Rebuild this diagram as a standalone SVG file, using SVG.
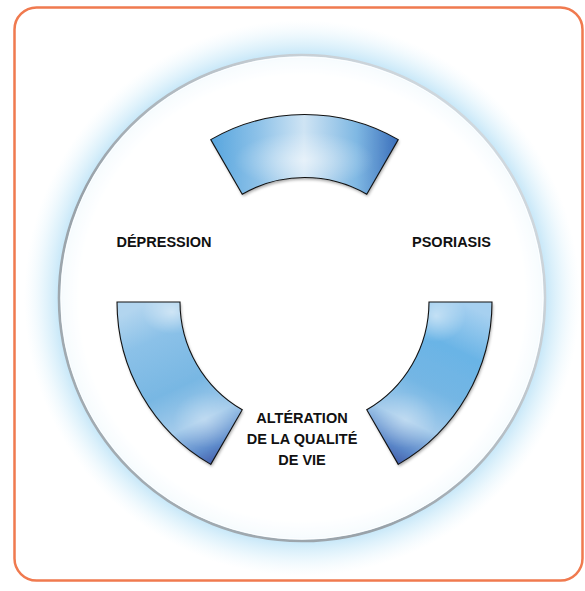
<svg xmlns="http://www.w3.org/2000/svg" width="585" height="591" viewBox="0 0 585 591">
  <defs>
    <style>
      .lbl { font-family: "Liberation Sans", Arial, sans-serif; font-weight: bold; font-size: 14.5px; fill: #111111; text-anchor: middle; }
      .seg { stroke: #111; stroke-width: 1.1; stroke-linejoin: miter; }
    </style>
    <radialGradient id="glow" cx="302" cy="298" r="278" gradientUnits="userSpaceOnUse">
      <stop offset="0" stop-color="#c8e8f8" stop-opacity="0"/>
      <stop offset="0.80" stop-color="#c8e8f8" stop-opacity="0"/>
      <stop offset="0.86" stop-color="#c8e8f8" stop-opacity="0.35"/>
      <stop offset="0.875" stop-color="#c0e4f7" stop-opacity="0.9"/>
      <stop offset="0.93" stop-color="#d2edfa" stop-opacity="0.55"/>
      <stop offset="1" stop-color="#e8f6fd" stop-opacity="0"/>
    </radialGradient>
    <linearGradient id="ring" x1="60" y1="500" x2="540" y2="80" gradientUnits="userSpaceOnUse">
      <stop offset="0" stop-color="#a7b0b6"/>
      <stop offset="0.35" stop-color="#98a1a8"/>
      <stop offset="0.7" stop-color="#c4ccd2"/>
      <stop offset="1" stop-color="#d8e0e6"/>
    </linearGradient>
    <linearGradient id="gTop" x1="210" y1="0" x2="398" y2="0" gradientUnits="userSpaceOnUse">
      <stop offset="0" stop-color="#56a5de"/>
      <stop offset="0.25" stop-color="#8cc1e8"/>
      <stop offset="0.5" stop-color="#cfe4f4"/>
      <stop offset="0.78" stop-color="#7fb8e3"/>
      <stop offset="1" stop-color="#3b6fbb"/>
    </linearGradient>
    <linearGradient id="gLeft" x1="150" y1="302" x2="226" y2="464" gradientUnits="userSpaceOnUse">
      <stop offset="0" stop-color="#b2d5ef"/>
      <stop offset="0.2" stop-color="#8bc1e8"/>
      <stop offset="0.5" stop-color="#78b7e3"/>
      <stop offset="0.72" stop-color="#a4cbeb"/>
      <stop offset="0.88" stop-color="#5e8bcb"/>
      <stop offset="1" stop-color="#3c4fa0"/>
    </linearGradient>
    <linearGradient id="gRight" x1="460" y1="302" x2="382" y2="464" gradientUnits="userSpaceOnUse">
      <stop offset="0" stop-color="#a6d0f0"/>
      <stop offset="0.25" stop-color="#6ab4e6"/>
      <stop offset="0.5" stop-color="#74b6e4"/>
      <stop offset="0.72" stop-color="#a4cbeb"/>
      <stop offset="0.88" stop-color="#5a86c8"/>
      <stop offset="1" stop-color="#3a4d9e"/>
    </linearGradient>
    <radialGradient id="hl" cx="0.5" cy="0.5" r="0.5">
      <stop offset="0" stop-color="#ffffff" stop-opacity="0.5"/>
      <stop offset="1" stop-color="#ffffff" stop-opacity="0"/>
    </radialGradient>
    <filter id="sh" x="-10%" y="-10%" width="130%" height="130%">
      <feDropShadow dx="1" dy="2" stdDeviation="1.5" flood-color="#000" flood-opacity="0.35"/>
    </filter>
    <clipPath id="cTop"><path d="M210.75,139.62 A187.5,187.5 0 0 1 398.25,139.62 L366.75,194.18 A124.5,124.5 0 0 0 242.25,194.18 Z"/></clipPath>
    <clipPath id="cLeft"><path d="M117,302 L180,302 A124.5,124.5 0 0 0 242.25,409.82 L210.75,464.38 A187.5,187.5 0 0 1 117,302 Z"/></clipPath>
    <clipPath id="cRight"><path d="M429,302 L492,302 A187.5,187.5 0 0 1 398.25,464.38 L366.75,409.82 A124.5,124.5 0 0 0 429,302 Z"/></clipPath>
  </defs>

  <rect x="0" y="0" width="585" height="591" fill="#ffffff"/>

  <g id="frame">
    <rect x="14.5" y="7.5" width="568" height="573" rx="22" ry="22" fill="#ffffff" stroke="#f07a4f" stroke-width="2.5"/>
  </g>

  <g id="circle">
    <circle cx="302" cy="298" r="278" fill="url(#glow)"/>
    <circle cx="302" cy="298" r="243" fill="#ffffff" fill-opacity="0.6" stroke="url(#ring)" stroke-width="2.6"/>
    <circle cx="302" cy="298" r="241" fill="none" stroke="#ffffff" stroke-width="1" opacity="0.9"/>
  </g>

  <g id="node-top">
    <path d="M210.75,139.62 A187.5,187.5 0 0 1 398.25,139.62 L366.75,194.18 A124.5,124.5 0 0 0 242.25,194.18 Z" fill="url(#gTop)" filter="url(#sh)"/>
    <ellipse cx="304" cy="160" rx="70" ry="28" fill="url(#hl)" clip-path="url(#cTop)"/>
    <path class="seg" d="M210.75,139.62 A187.5,187.5 0 0 1 398.25,139.62 L366.75,194.18 A124.5,124.5 0 0 0 242.25,194.18 Z" fill="none"/>
  </g>

  <g id="node-left">
    <path d="M117,302 L180,302 A124.5,124.5 0 0 0 242.25,409.82 L210.75,464.38 A187.5,187.5 0 0 1 117,302 Z" fill="url(#gLeft)" filter="url(#sh)"/>
    <ellipse cx="172" cy="312" rx="30" ry="22" fill="url(#hl)" clip-path="url(#cLeft)"/>
    <ellipse cx="205" cy="420" rx="32" ry="28" fill="url(#hl)" clip-path="url(#cLeft)" opacity="0.6"/>
    <path class="seg" d="M117,302 L180,302 A124.5,124.5 0 0 0 242.25,409.82 L210.75,464.38 A187.5,187.5 0 0 1 117,302 Z" fill="none"/>
  </g>

  <g id="node-right">
    <path d="M429,302 L492,302 A187.5,187.5 0 0 1 398.25,464.38 L366.75,409.82 A124.5,124.5 0 0 0 429,302 Z" fill="url(#gRight)" filter="url(#sh)"/>
    <ellipse cx="436" cy="316" rx="30" ry="26" fill="url(#hl)" clip-path="url(#cRight)"/>
    <ellipse cx="405" cy="420" rx="32" ry="28" fill="url(#hl)" clip-path="url(#cRight)" opacity="0.6"/>
    <path class="seg" d="M429,302 L492,302 A187.5,187.5 0 0 1 398.25,464.38 L366.75,409.82 A124.5,124.5 0 0 0 429,302 Z" fill="none"/>
  </g>

  <g id="connectors"></g>

  <g id="label-depression">
    <text class="lbl" x="164" y="247">DÉPRESSION</text>
  </g>
  <g id="label-psoriasis">
    <text class="lbl" x="451.5" y="247">PSORIASIS</text>
  </g>
  <g id="label-alteration">
    <text class="lbl" x="302" y="423">ALTÉRATION</text>
    <text class="lbl" x="302" y="444">DE LA QUALITÉ</text>
    <text class="lbl" x="302" y="465">DE VIE</text>
  </g>
</svg>
